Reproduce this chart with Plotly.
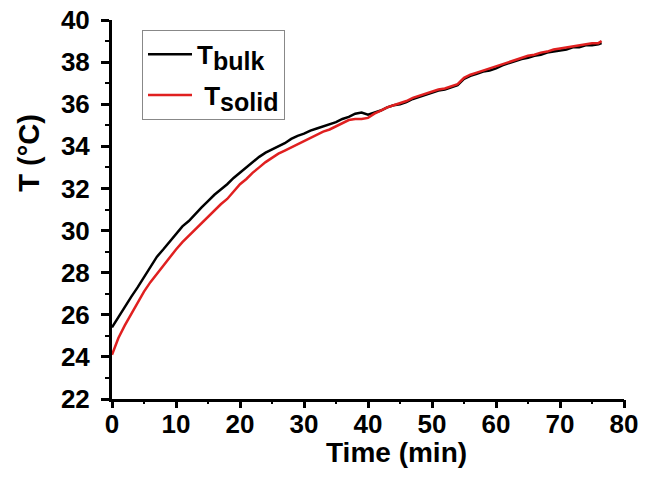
import plotly.graph_objects as go

time_bulk = [0, 1, 2, 3, 4, 5, 6, 7, 8, 9, 10, 11, 12, 13, 14, 15, 16, 17, 18, 19,
             20, 21, 22, 23, 24, 25, 26, 27, 28, 29, 30, 31, 32, 33, 34, 35, 36, 37, 38, 39,
             40, 41, 42, 43, 44, 45, 46, 47, 48, 49, 50, 51, 52, 53, 54, 55, 56, 57, 58, 59,
             60, 61, 62, 63, 64, 65, 66, 67, 68, 69, 70, 71, 72, 73, 74, 75, 76, 76.5]
t_bulk = [25.4, 25.9, 26.4, 26.85, 27.3, 27.8, 28.3, 28.75, 29.1, 29.45,
          29.85, 30.2, 30.45, 30.8, 31.1, 31.4, 31.7, 31.95, 32.2, 32.5,
          32.75, 33.0, 33.25, 33.5, 33.7, 33.85, 34.0, 34.15, 34.35, 34.5,
          34.6, 34.75, 34.85, 34.95, 35.05, 35.15, 35.3, 35.4, 35.55, 35.6,
          35.5, 35.6, 35.7, 35.85, 35.95, 36.0, 36.1, 36.25, 36.35, 36.45,
          36.55, 36.65, 36.7, 36.8, 36.9, 37.2, 37.35, 37.45, 37.55, 37.6,
          37.7, 37.85, 37.95, 38.05, 38.15, 38.2, 38.3, 38.35, 38.45, 38.5,
          38.55, 38.6, 38.7, 38.7, 38.8, 38.8, 38.85, 38.9]

time_solid = [0, 0.5, 1, 2, 3, 4, 5, 6, 7, 8, 9, 10, 11, 12, 13, 14, 15, 16, 17, 18, 19,
              20, 21, 22, 23, 24, 25, 26, 27, 28, 29, 30, 31, 32, 33, 34, 35, 36, 37, 38, 39,
              40, 41, 42, 43, 44, 45, 46, 47, 48, 49, 50, 51, 52, 53, 54, 55, 56, 57, 58, 59,
              60, 61, 62, 63, 64, 65, 66, 67, 68, 69, 70, 71, 72, 73, 74, 75, 76, 76.5]
t_solid = [24.1, 24.5, 24.9, 25.5, 26.05, 26.6, 27.1, 27.55, 27.95, 28.3, 28.7,
           29.1, 29.45, 29.75, 30.05, 30.35, 30.65, 30.95, 31.25, 31.5, 31.85,
           32.2, 32.45, 32.75, 33.0, 33.25, 33.45, 33.65, 33.8, 33.95, 34.1,
           34.25, 34.4, 34.55, 34.7, 34.8, 34.95, 35.1, 35.25, 35.3, 35.3,
           35.35, 35.55, 35.7, 35.85, 35.95, 36.05, 36.15, 36.3, 36.4, 36.5,
           36.6, 36.7, 36.75, 36.85, 36.95, 37.25, 37.4, 37.5, 37.6, 37.7,
           37.8, 37.9, 38.0, 38.1, 38.2, 38.3, 38.35, 38.45, 38.5, 38.6,
           38.65, 38.7, 38.75, 38.8, 38.85, 38.9, 38.9, 39.0]

x_ticks = [0, 10, 20, 30, 40, 50, 60, 70, 80]
y_ticks = [22, 24, 26, 28, 30, 32, 34, 36, 38, 40]

FONT = "Liberation Sans, Arial, sans-serif"
X_RANGE = [0, 80]
Y_RANGE = [22, 40]

fig = go.Figure()
fig.add_trace(go.Scatter(x=time_bulk, y=t_bulk, mode="lines",
                         line=dict(color="#000000", width=2.5), legendgroup="a",
                         name="T<sub><span style='font-size:25px'>bulk</span></sub>"))
fig.add_trace(go.Scatter(x=time_solid, y=t_solid, mode="lines", xaxis="x2",
                         line=dict(color="#e02020", width=2.5), legendgroup="b",
                         name=" T<sub><span style='font-size:25px'>solid</span></sub>"))

tickfont = dict(family=FONT, size=26, color="black", weight="bold")

fig.update_layout(
    xaxis=dict(range=X_RANGE, tickvals=x_ticks, ticktext=[str(v) for v in x_ticks],
               showline=True, linecolor="black", linewidth=3, ticks="",
               showgrid=False, zeroline=False, automargin=False,
               ticklabelstandoff=0, tickfont=tickfont),
    xaxis2=dict(range=X_RANGE, overlaying="x", anchor="y", side="bottom",
                tickvals=x_ticks, showticklabels=False, showline=False,
                ticks="outside", ticklen=8, tickwidth=3, tickcolor="black",
                minor=dict(ticks="outside", ticklen=4, tickwidth=2, tickcolor="black", dtick=5),
                showgrid=False, zeroline=False, automargin=False),
    yaxis=dict(range=Y_RANGE, tickvals=y_ticks, ticktext=[str(v) for v in y_ticks],
               showline=True, linecolor="black", linewidth=3, ticks="outside",
               ticklen=8, tickwidth=3, tickcolor="black",
               minor=dict(ticks="outside", ticklen=4, tickwidth=2, tickcolor="black", dtick=1),
               showgrid=False, zeroline=False, automargin=False,
               ticklabelstandoff=6, tickfont=tickfont),
)

fig.add_annotation(text="Time (min)", xref="paper", yref="paper", x=0.555, y=-0.14,
                   xanchor="center", yanchor="middle", showarrow=False,
                   font=dict(family=FONT, size=28, color="black", weight="bold"))
fig.add_annotation(text="T (°C)", xref="paper", yref="paper", x=-0.162, y=0.65,
                   xanchor="center", yanchor="middle", showarrow=False, textangle=-90,
                   font=dict(family=FONT, size=29, color="black", weight="bold"))

fig.update_layout(
    width=653, height=477,
    margin=dict(l=112, r=29, t=20, b=78, autoexpand=False),
    paper_bgcolor="white", plot_bgcolor="white",
    showlegend=True,
    legend=dict(x=0.0586, y=0.974, xanchor="left", yanchor="top",
                bordercolor="#888888", borderwidth=1, bgcolor="white",
                font=dict(family=FONT, size=26, color="black", weight="bold"),
                tracegroupgap=4, itemwidth=44),
)

fig.write_html("out.html")
